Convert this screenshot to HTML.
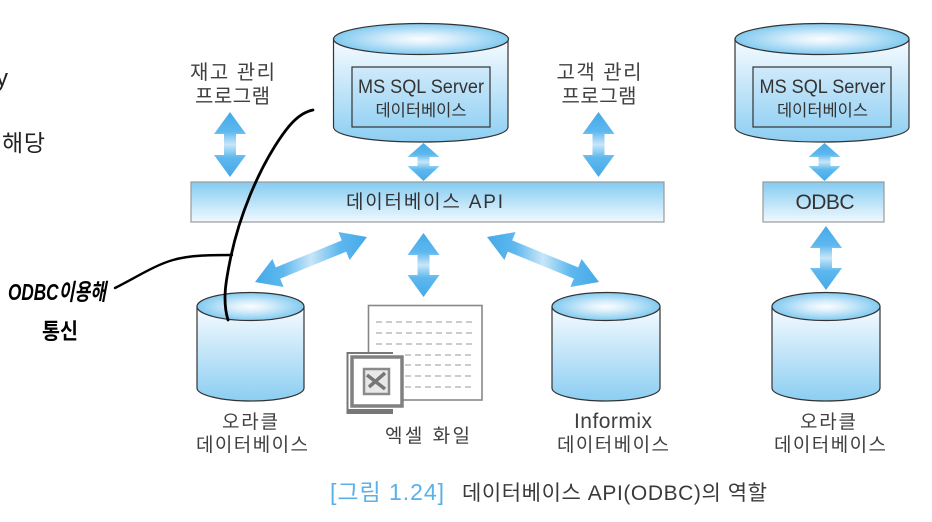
<!DOCTYPE html>
<html>
<head>
<meta charset="utf-8">
<style>
html,body{margin:0;padding:0;background:#fff;width:932px;height:522px;overflow:hidden}
svg{display:block;position:absolute;left:0;top:0;filter:blur(0.35px)}
text{font-family:"Liberation Sans","Noto Sans CJK KR",sans-serif;fill:#404040;text-anchor:middle;font-size:19px}
</style>
</head>
<body>
<svg width="932" height="522" viewBox="0 0 932 522" xmlns="http://www.w3.org/2000/svg">
<defs>
<linearGradient id="body" x1="0" y1="0" x2="0" y2="1"><stop offset="0" stop-color="#f6fbff"/><stop offset="1" stop-color="#8ccef2"/></linearGradient>
<linearGradient id="inner" x1="0" y1="0" x2="0" y2="1"><stop offset="0" stop-color="#cfe9fa"/><stop offset="1" stop-color="#98d3f4"/></linearGradient>
<linearGradient id="bar" x1="0" y1="0" x2="0" y2="1"><stop offset="0" stop-color="#84cbf1"/><stop offset="1" stop-color="#f0f9fe"/></linearGradient>
<radialGradient id="top" cx="0.5" cy="0.5" r="0.5"><stop offset="0" stop-color="#fbfdff"/><stop offset="0.35" stop-color="#d8eefb"/><stop offset="1" stop-color="#82caf0"/></radialGradient>
<linearGradient id="av" x1="0" y1="0" x2="0" y2="1"><stop offset="0" stop-color="#45a9e8"/><stop offset="0.3" stop-color="#5eb8ee"/><stop offset="0.5" stop-color="#c8e6f8"/><stop offset="0.7" stop-color="#5eb8ee"/><stop offset="1" stop-color="#45a9e8"/></linearGradient>
<linearGradient id="ah" x1="0" y1="0" x2="1" y2="0"><stop offset="0" stop-color="#45a9e8"/><stop offset="0.25" stop-color="#5eb8ee"/><stop offset="0.5" stop-color="#c8e6f8"/><stop offset="0.75" stop-color="#5eb8ee"/><stop offset="1" stop-color="#45a9e8"/></linearGradient>
</defs>

<!-- cut-off page text -->
<text x="2" y="86" style="font-size:24px;fill:#222">y</text>
<text x="23.500" y="151" style="font-size:23px;fill:#222" textLength="43">해당</text>

<!-- big cylinders -->
<g stroke="#333" stroke-width="1.2">
<path d="M333.500 39V127C333.500 136 372 142 421 142S508 136 508 127V39Z" fill="url(#body)"/>
<ellipse cx="421" cy="39" rx="87.500" ry="15.500" fill="url(#top)"/>
<rect x="352" y="67" width="138" height="60" fill="url(#inner)"/>
<path d="M735 39V127C735 136 773 142 822 142S909 136 909 127V39Z" fill="url(#body)"/>
<ellipse cx="822" cy="39" rx="87" ry="15.500" fill="url(#top)"/>
<rect x="753" y="67" width="138" height="60" fill="url(#inner)"/>
<!-- small cylinders -->
<path d="M197 307V388C197 395 221 401 251 401S304 395 304 388V307Z" fill="url(#body)"/>
<ellipse cx="250.500" cy="306.500" rx="53.500" ry="14" fill="url(#top)"/>
<path d="M552 307V388C552 395 576 401 606 401S660 395 660 388V307Z" fill="url(#body)"/>
<ellipse cx="606" cy="306.500" rx="54" ry="14" fill="url(#top)"/>
<path d="M772 307V388C772 395 796 401 826 401S880 395 880 388V307Z" fill="url(#body)"/>
<ellipse cx="826" cy="306.500" rx="54" ry="14" fill="url(#top)"/>
</g>

<!-- bars -->
<rect x="191" y="182" width="473" height="40" fill="url(#bar)" stroke="#999" stroke-width="1.200"/>
<rect x="763" y="182" width="121" height="40" fill="url(#bar)" stroke="#999" stroke-width="1.200"/>

<!-- vertical arrows -->
<path d="M230 112L246 134H236V155H246L230 177L214 155H224V134H214Z" fill="url(#av)"/>
<path d="M598.500 112L614.500 134H604.500V155H614.500L598.500 177L582.500 155H592.500V134H582.500Z" fill="url(#av)"/>
<path d="M423.500 143L439.500 157H429.500V166H439.500L423.500 181L407.500 166H417.500V157H407.500Z" fill="url(#av)"/>
<path d="M824.500 143L840.500 157H830.500V166H840.500L824.500 181L808.500 166H818.500V157H808.500Z" fill="url(#av)"/>
<path d="M423.500 233L439.500 255H429.500V275H439.500L423.500 297L407.500 275H417.500V255H407.500Z" fill="url(#av)"/>
<path d="M826 226L842 248H832V268H842L826 290L810 268H820V248H810Z" fill="url(#av)"/>

<!-- diagonal arrows -->
<path d="M367 237L338.400 232L341.800 240.400L275.800 267.400L272.400 259L255 282L283.600 287L280.200 278.600L346.200 251.600L349.600 260Z" fill="url(#ah)"/>
<path d="M367 237L338.400 232L341.800 240.400L275.800 267.400L272.400 259L255 282L283.600 287L280.200 278.600L346.200 251.600L349.600 260Z" fill="url(#ah)" transform="translate(854 0) scale(-1 1)"/>

<!-- excel -->
<rect x="368.500" y="305.500" width="113.500" height="94.500" fill="#fff" stroke="#888" stroke-width="1.600"/>
<g stroke="#999" stroke-width="1.100" stroke-dasharray="6 4" fill="none">
<path d="M376 322H474M376 333H474M376 344H474M405 355H474M405 365H474M405 376H474M405 387H474"/>
</g>
<rect x="347" y="352" width="47" height="61" fill="#fff"/>
<path d="M393 353H347.500V413H393" fill="none" stroke="#777" stroke-width="2"/>
<rect x="347" y="409" width="46" height="4" fill="#777"/>
<rect x="352" y="357" width="50" height="49" fill="#fff" stroke="#808080" stroke-width="3.500"/>
<rect x="364" y="369" width="25" height="25" fill="#e8e8e8" stroke="#8a8a8a" stroke-width="2.500"/>
<path d="M367 375L385 389M385 373L369 387" stroke="#777" stroke-width="3.500" fill="none"/>

<!-- labels -->
<text x="232.500" y="79" style="font-size:20px" textLength="85">재고 관리</text>
<text x="232.500" y="103" style="font-size:20px" textLength="75">프로그램</text>
<text x="599" y="79" style="font-size:20px" textLength="85">고객 관리</text>
<text x="599" y="103" style="font-size:20px" textLength="75">프로그램</text>
<text x="421" y="93" style="font-size:19px;fill:#333" textLength="126" lengthAdjust="spacingAndGlyphs">MS SQL Server</text>
<text x="421" y="116" style="font-size:16.500px;fill:#333" textLength="91">데이터베이스</text>
<text x="822.500" y="93" style="font-size:19px;fill:#333" textLength="126" lengthAdjust="spacingAndGlyphs">MS SQL Server</text>
<text x="822.500" y="116" style="font-size:16.500px;fill:#333" textLength="91">데이터베이스</text>
<text x="424.500" y="208" style="font-size:19px;fill:#333" textLength="157">데이터베이스 API</text>
<text x="825" y="209" style="font-size:21px;fill:#333" textLength="59">ODBC</text>
<text x="250" y="428" style="font-size:19px" textLength="56">오라클</text>
<text x="252" y="451" style="font-size:19px" textLength="112">데이터베이스</text>
<text x="427.500" y="442" style="font-size:19px" textLength="85">엑셀 화일</text>
<text x="613" y="428" style="font-size:21px" textLength="78">Informix</text>
<text x="613" y="451" style="font-size:19px" textLength="112">데이터베이스</text>
<text x="828" y="428" style="font-size:19px" textLength="56">오라클</text>
<text x="830" y="451" style="font-size:19px" textLength="112">데이터베이스</text>
<text x="387" y="500" style="font-size:23px;fill:#5ab0e8" textLength="114">[그림 1.24]</text>
<text x="614.500" y="500" style="font-size:21px;fill:#3a3a3a" textLength="305">데이터베이스 API(ODBC)의 역할</text>

<!-- handwriting -->
<path d="M313 110C298 113 287 127 275 146C258 173 240 214 231 256C226 280 222 300 228 320" fill="none" stroke="#000" stroke-width="2.800" stroke-linecap="round"/>
<path d="M115 288C135 278 155 265 173 260C190 255 212 255 232 255" fill="none" stroke="#000" stroke-width="2.400" stroke-linecap="round"/>
<text x="57" y="300" style="font-size:23px;fill:#000;font-weight:bold;font-style:italic" textLength="98" lengthAdjust="spacingAndGlyphs">ODBC이용해</text>
<text x="60" y="339" style="font-size:22px;fill:#000;font-weight:bold" textLength="36" lengthAdjust="spacingAndGlyphs">통신</text>
</svg>
</body>
</html>
